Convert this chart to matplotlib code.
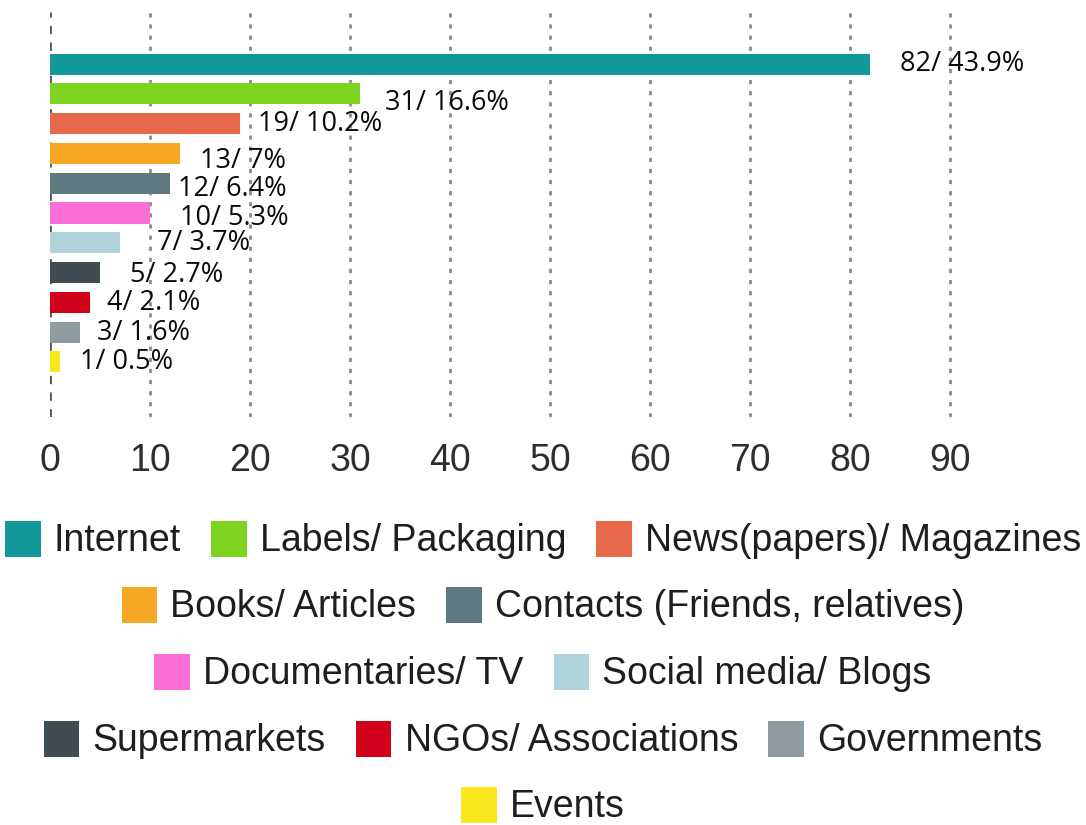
import matplotlib.pyplot as plt
from matplotlib.patches import Patch

# data
categories = ['Internet', 'Labels/ Packaging', 'News(papers)/ Magazines',
              'Books/ Articles', 'Contacts (Friends, relatives)',
              'Documentaries/ TV', 'Social media/ Blogs', 'Supermarkets',
              'NGOs/ Associations', 'Governments', 'Events']
counts = [82, 31, 19, 13, 12, 10, 7, 5, 4, 3, 1]
shares = ['43.9%', '16.6%', '10.2%', '7%', '6.4%', '5.3%', '3.7%',
          '2.7%', '2.1%', '1.6%', '0.5%']
colors = ['#12989B', '#7ED321', '#E8694A', '#F5A623', '#5E7A80', '#FA6FD6',
          '#AFD3DA', '#3F4C52', '#D0021B', '#8E9CA2', '#F8E71C']

# label nudges (pixels) to mimic the original placement
label_dx = [30, 25, 18, 20, 8, 30, 37, 30, 17, 17, 20]
label_dy = [0, -9, 0, -8, -6, -5, 0, -2, -1, -1, 0]

legend_rows = [[0, 1, 2], [3, 4], [5, 6], [7, 8, 9], [10]]
row_y = [540, 606, 673, 740, 806]

W, H = 1086, 825
fig = plt.figure(figsize=(W / 100, H / 100), dpi=100)
ax = fig.add_axes([50 / W, 1 - 417 / H, 1000 / W, 405 / H])

ypos = list(range(len(categories)))
ax.barh(ypos, counts, height=0.71, color=colors, zorder=3)

for i, (c, s) in enumerate(zip(counts, shares)):
    ax.annotate(f'{c}/ {s}', xy=(c, i), xytext=(label_dx[i], label_dy[i]),
                textcoords='offset pixels', va='center', ha='left',
                fontsize=19.5, family='Open Sans', color='#0a0a0a',
                annotation_clip=False, zorder=4)

ax.set_xlim(0, 100)
ax.set_ylim(len(categories) - 1 + 1.85, -1.75)
ax.set_xticks(range(0, 100, 10))
ax.set_yticks([])
for x in range(10, 100, 10):
    ax.axvline(x, color='#8a8a8a', lw=2, ls=(0, (1.5, 2.5)), zorder=1)
ax.axvline(0, color='#555555', lw=2, ls=(0, (3, 3)), zorder=1)
for sp in ax.spines.values():
    sp.set_visible(False)
ax.tick_params(axis='x', length=0, pad=19, labelsize=27, labelcolor='#2e2e2e')
for lbl in ax.get_xticklabels():
    lbl.set_family('Liberation Sans')

handles = [Patch(facecolor=col, edgecolor='none', label=cat)
           for cat, col in zip(categories, colors)]
for row, y in zip(legend_rows, row_y):
    fig.legend(handles=[handles[i] for i in row], loc='center',
               bbox_to_anchor=(0.5, 1 - y / H), ncol=len(row), frameon=False,
               prop={'family': 'Liberation Sans', 'size': 27},
               labelcolor='#1e1e1e', handlelength=0.95, handleheight=1.1,
               handletextpad=0.35, columnspacing=0.8, borderpad=0,
               borderaxespad=0)

fig.savefig('out.png', dpi=100)
